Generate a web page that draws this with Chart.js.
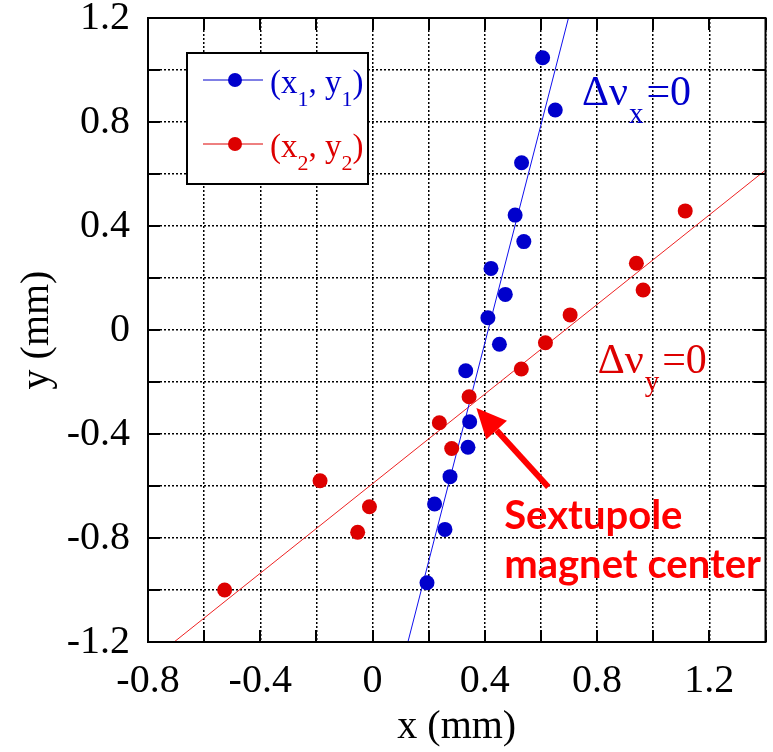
<!DOCTYPE html>
<html>
<head>
<meta charset="utf-8">
<script src="https://cdn.jsdelivr.net/npm/chart.js@4.4.1/dist/chart.umd.min.js"></script>
<style>
  body { margin: 0; background: #fff; }
  canvas { display: block; }
</style>
</head>
<body>
<canvas id="myChart" width="773" height="752"></canvas>
<script>
// measured points (mm)
var x1 = [0.606, 0.651, 0.531, 0.508, 0.539, 0.422, 0.473, 0.411, 0.452, 0.332, 0.346, 0.340, 0.276, 0.221, 0.258, 0.194];
var y1 = [1.047, 0.846, 0.643, 0.442, 0.340, 0.237, 0.137, 0.047, -0.055, -0.157, -0.353, -0.451, -0.564, -0.669, -0.767, -0.972];
var x2 = [1.114, 0.940, 0.964, 0.704, 0.616, 0.530, 0.344, 0.238, 0.282, -0.187, -0.011, -0.053, -0.527];
var y2 = [0.458, 0.257, 0.154, 0.058, -0.049, -0.150, -0.257, -0.357, -0.456, -0.580, -0.680, -0.778, -1.000];

// fitted lines (end points)
var fit1X = [0.126, 0.698];
var fit1Y = [-1.2, 1.2];
var fit2X = [-0.707, 1.4];
var fit2Y = [-1.2, 0.615];

// labelled ticks
var xTicks = [-0.8, -0.4, 0, 0.4, 0.8, 1.2];
var yTicks = [-1.2, -0.8, -0.4, 0, 0.4, 0.8, 1.2];

var blue = "#0000CC";
var red = "#DD0000";
var serif = "'Liberation Serif', 'Times New Roman', serif";

function toPoints(xs, ys) {
  var pts = [];
  for (var i = 0; i < xs.length; i++) pts.push({ x: xs[i], y: ys[i] });
  return pts;
}

function tickLabel(list) {
  return function (v) {
    for (var i = 0; i < list.length; i++) {
      if (Math.abs(list[i] - v) < 1e-6) {
        return list[i] === 0 ? "0" : list[i].toFixed(1);
      }
    }
    return "";
  };
}

// box, inward ticks, legend and annotations
var extras = {
  id: "extras",
  afterDraw: function (chart) {
    var ctx = chart.ctx;
    var a = chart.chartArea;
    var xs = chart.scales.x, ys = chart.scales.y;
    ctx.save();

    // frame
    ctx.strokeStyle = "#000";
    ctx.lineWidth = 2;
    ctx.strokeRect(a.left, a.top, a.right - a.left, a.bottom - a.top);

    // inward tick marks
    var tl = 12;
    ctx.beginPath();
    xs.ticks.forEach(function (t) {
      var px = Math.round(xs.getPixelForValue(t.value));
      ctx.moveTo(px, a.bottom); ctx.lineTo(px, a.bottom - tl);
      ctx.moveTo(px, a.top); ctx.lineTo(px, a.top + tl);
    });
    ys.ticks.forEach(function (t) {
      var py = Math.round(ys.getPixelForValue(t.value));
      ctx.moveTo(a.left, py); ctx.lineTo(a.left + tl, py);
      ctx.moveTo(a.right, py); ctx.lineTo(a.right - tl, py);
    });
    ctx.stroke();

    // legend
    var lx = a.left + 39, ly = a.top + 35, lw = 181, lh = 131;
    ctx.fillStyle = "#fff";
    ctx.fillRect(lx, ly, lw, lh);
    ctx.lineWidth = 2;
    ctx.strokeStyle = "#000";
    ctx.strokeRect(lx, ly, lw, lh);
    var entries = [
      { color: chart.data.datasets[0].backgroundColor, sub: "1", y: ly + 27 },
      { color: chart.data.datasets[1].backgroundColor, sub: "2", y: ly + 91 }
    ];
    entries.forEach(function (e) {
      ctx.strokeStyle = e.color;
      ctx.lineWidth = 1;
      ctx.beginPath();
      ctx.moveTo(lx + 16, e.y); ctx.lineTo(lx + 76, e.y);
      ctx.stroke();
      ctx.fillStyle = e.color;
      ctx.beginPath();
      ctx.arc(lx + 48, e.y, 7, 0, Math.PI * 2);
      ctx.fill();
      var tx = lx + 83, base = e.y + 13;
      var parts = [["(x", 33, 0], [e.sub, 22, 13], [", y", 33, 0], [e.sub, 22, 13], [")", 33, 0]];
      ctx.textBaseline = "alphabetic";
      ctx.textAlign = "left";
      parts.forEach(function (p) {
        ctx.font = p[1] + "px " + serif;
        ctx.fillText(p[0], tx, base + p[2]);
        tx += ctx.measureText(p[0]).width;
      });
    });

    // delta nu labels
    function nuLabel(x, y, sub, color) {
      var px = xs.getPixelForValue(x), py = ys.getPixelForValue(y);
      ctx.fillStyle = color;
      ctx.textAlign = "left";
      ctx.textBaseline = "alphabetic";
      ctx.font = "42px " + serif;
      ctx.fillText("\u0394\u03bd", px, py);
      px += ctx.measureText("\u0394\u03bd").width + 1;
      ctx.font = "29px " + serif;
      ctx.fillText(sub, px, py + 18);
      px += ctx.measureText(sub).width + 3;
      ctx.font = "42px " + serif;
      ctx.fillText("=0", px, py);
    }
    nuLabel(0.746, 0.865, "x", blue);
    nuLabel(0.802, -0.165, "y", red);

    // arrow to the crossing point
    var tipX = xs.getPixelForValue(0.370), tipY = ys.getPixelForValue(-0.300);
    var tailX = xs.getPixelForValue(0.626), tailY = ys.getPixelForValue(-0.604);
    var ang = Math.atan2(tipY - tailY, tipX - tailX);
    var hl = 30, hw = 14;
    var bx = tipX - hl * Math.cos(ang), by = tipY - hl * Math.sin(ang);
    ctx.strokeStyle = "#FF0000";
    ctx.fillStyle = "#FF0000";
    ctx.lineWidth = 6;
    ctx.beginPath();
    ctx.moveTo(tailX, tailY); ctx.lineTo(bx, by);
    ctx.stroke();
    ctx.beginPath();
    ctx.moveTo(tipX, tipY);
    ctx.lineTo(bx + hw * Math.sin(ang), by - hw * Math.cos(ang));
    ctx.lineTo(bx - hw * Math.sin(ang), by + hw * Math.cos(ang));
    ctx.closePath();
    ctx.fill();

    ctx.font = "bold 40px Lato, 'Open Sans', sans-serif";
    ctx.textAlign = "left";
    ctx.fillText("Sextupole", xs.getPixelForValue(0.469), ys.getPixelForValue(-0.765));
    ctx.fillText("magnet center", xs.getPixelForValue(0.469), ys.getPixelForValue(-0.955));

    ctx.restore();
  }
};

var ctx = document.getElementById("myChart");
var myChart = new Chart(ctx, {
  type: "scatter",
  data: {
    datasets: [
      {
        label: "(x1, y1)",
        data: toPoints(x1, y1),
        backgroundColor: blue,
        borderWidth: 0,
        pointRadius: 7.5,
        order: 0
      },
      {
        label: "(x2, y2)",
        data: toPoints(x2, y2),
        backgroundColor: red,
        borderWidth: 0,
        pointRadius: 7.5,
        order: 0
      },
      {
        label: "fit 1",
        data: toPoints(fit1X, fit1Y),
        showLine: true,
        borderColor: "#1010EE",
        borderWidth: 1,
        pointRadius: 0,
        order: 1
      },
      {
        label: "fit 2",
        data: toPoints(fit2X, fit2Y),
        showLine: true,
        borderColor: "#EE2222",
        borderWidth: 1,
        pointRadius: 0,
        order: 1
      }
    ]
  },
  options: {
    responsive: false,
    animation: false,
    devicePixelRatio: 1,
    layout: { padding: { top: 18, left: 0, right: 0, bottom: 0 } },
    plugins: {
      legend: { display: false },
      tooltip: { enabled: false }
    },
    scales: {
      x: {
        type: "linear",
        min: -0.8,
        max: 1.4,
        afterFit: function (s) { s.height = 110; s.paddingLeft = 0; s.paddingRight = 0; },
        grid: { color: "#000", lineWidth: 1.5, drawTicks: false },
        border: { display: false, dash: [2, 2] },
        ticks: {
          stepSize: 0.2,
          autoSkip: false,
          maxRotation: 0,
          padding: 19,
          color: "#000",
          font: { family: serif, size: 40, lineHeight: 1 },
          callback: tickLabel(xTicks)
        },
        title: {
          display: true,
          text: "x (mm)",
          color: "#000",
          padding: { top: 0, bottom: 5 },
          font: { family: serif, size: 40, lineHeight: 1 }
        }
      },
      y: {
        type: "linear",
        min: -1.2,
        max: 1.2,
        afterFit: function (s) { s.width = 148; s.paddingTop = 0; s.paddingBottom = 0; },
        grid: { color: "#000", lineWidth: 1.5, drawTicks: false },
        border: { display: false, dash: [2, 2] },
        ticks: {
          stepSize: 0.2,
          autoSkip: false,
          padding: 18,
          color: "#000",
          font: { family: serif, size: 40, lineHeight: 1 },
          callback: tickLabel(yTicks)
        },
        title: {
          display: true,
          text: "y (mm)",
          color: "#000",
          padding: { top: 17, bottom: 0 },
          font: { family: serif, size: 40, lineHeight: 1 }
        }
      }
    }
  },
  plugins: [extras]
});
</script>
</body>
</html>
